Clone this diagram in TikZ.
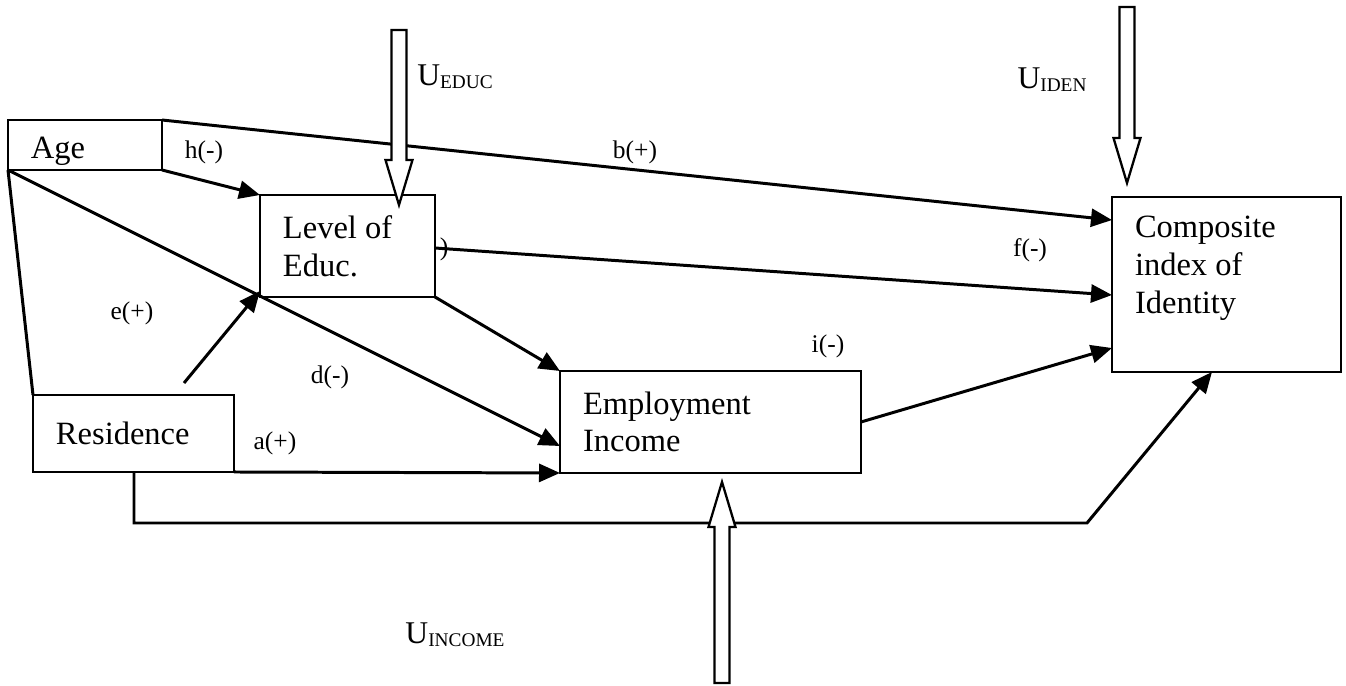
\documentclass[tikz,border=0pt]{standalone}
\usepackage{fontspec}
\setmainfont{Liberation Serif}
\usetikzlibrary{arrows.meta,calc}
\tikzset{
  vbox/.style ={rectangle, draw=black, line width=1.6pt, anchor=north west, align=flush left,
                inner xsep=0.46cm, inner ysep=0pt, outer sep=0pt,
                font=\fontsize{18.5}{21.5}\selectfont},
  lbl/.style  ={font=\fontsize{14.5}{17}\selectfont, inner sep=0pt},
  ulbl/.style ={font=\fontsize{18}{20}\selectfont, inner sep=0pt},
  ln/.style   ={line width=1.7pt},
  arr/.style  ={ln, -{Triangle[length=0.42cm, width=0.36cm]}},
  blk/.style  ={draw=black, fill=white, line width=1.3pt, line join=miter},
}
\newcommand{\usub}[1]{U\raisebox{-0.06cm}{\fontsize{11}{13}\selectfont #1}}

\begin{document}
\begin{tikzpicture}[x=0.02cm, y=-0.02cm]
  \useasboundingbox (0,0) rectangle (1346,686);
  % boxes
  \node[vbox, text width=2.16cm, minimum width=3.08cm, minimum height=1.0cm]  (age) at (8,120)    {\rule{0pt}{0.7cm}Age};
  \node[vbox, text width=2.58cm, minimum width=3.5cm,  minimum height=2.04cm] (lev) at (260,195)  {Level of\\Educ.};
  \node[vbox, text width=3.10cm, minimum width=4.02cm, minimum height=1.54cm] (res) at (33,395)   {Residence};
  \node[vbox, text width=5.10cm, minimum width=6.02cm, minimum height=2.04cm] (emp) at (560,371)  {Employment\\Income};
  \node[vbox, text width=3.66cm, minimum width=4.58cm, minimum height=3.5cm]  (cid) at (1112,197) {Composite\\index of\\Identity\rule[-0.78cm]{0pt}{0.78cm}};
  % path labels
  \node[lbl] (lh) at (204,152)  {h(-)};
  \node[lbl] (lb) at (635,152)  {b(+)};
  \node[lbl] (lc) at (444,249)  {)};
  \node[lbl] (lf) at (1030,250) {f(-)};
  \node[lbl] (li) at (828,346)  {i(-)};
  \node[lbl] (le) at (132,313)  {e(+)};
  \node[lbl] (ld) at (330,377)  {d(-)};
  \node[lbl] (la) at (275,443)  {a(+)};
  % disturbance labels
  \node[ulbl] (ue)  at (455,77)  {\usub{EDUC}};
  \node[ulbl] (ui)  at (1052,80) {\usub{IDEN}};
  \node[ulbl] (uin) at (455,635) {\usub{INCOME}};
  % free ends
  \coordinate (resTop)  at ($(res.north west)+(151,-12)$);
  \coordinate (resFoot) at ($(res.south west)+(101,0)$);
  \coordinate (bend)    at (1087,523);
  \coordinate (ueTop)   at ($(lev.north west)+(139,-165)$);
  \coordinate (ueTip)   at ($(lev.north west)+(139,10)$);
  \coordinate (uiTop)   at ($(cid.north west)+(15,-190)$);
  \coordinate (uiTip)   at ($(cid.north west)+(15,-14)$);
  \coordinate (uinBot)  at ($(emp.south west)+(162,210)$);
  \coordinate (uinTip)  at ($(emp.south west)+(162,9)$);
  % paths
  \draw[arr] (age.north east) -- ($(cid.north west)+(0,23)$);
  \draw[arr] (age.south east) -- (lev.north west);
  \draw[arr] (age.south west) -- ($(emp.north west)+(0,75)$);
  \draw[ln]  (age.south west) -- (res.north west);
  \draw[arr] (resTop) -- ($(lev.south west)+(0,-6)$);
  \draw[arr] (lev.south east) -- (emp.north west);
  \draw[arr] ($(lev.north east)+(0,53)$) -- ($(cid.north west)+(0,98)$);
  \draw[arr] (res.south east) -- (emp.south west);
  \draw[arr] ($(emp.north east)+(0,51)$) -- ($(cid.north west)+(0,151)$);
  \draw[arr] (resFoot) |- (bend) -- ($(cid.south west)+(100,0)$);
  % disturbance arrows
  \foreach \src/\dst in {ueTop/ueTip, uiTop/uiTip, uinBot/uinTip}
    \draw[blk] let \p1=(\src), \p2=(\dst), \n1={(\y2>\y1) ? 1 : -1} in
      ({\x1-0.15cm},{\y1}) -- ({\x1-0.15cm},{\y2-\n1*0.9cm}) -- ({\x1-0.27cm},{\y2-\n1*0.9cm})
      -- (\x2,\y2) -- ({\x1+0.27cm},{\y2-\n1*0.9cm}) -- ({\x1+0.15cm},{\y2-\n1*0.9cm})
      -- ({\x1+0.15cm},{\y1}) -- cycle;
\end{tikzpicture}
\end{document}
